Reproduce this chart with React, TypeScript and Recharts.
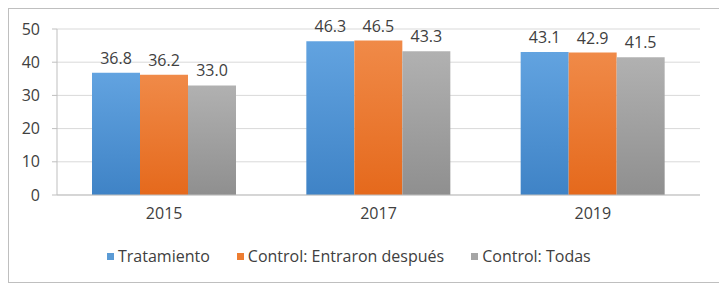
import React from 'react';
import { BarChart, Bar, XAxis, YAxis, CartesianGrid, Legend, LabelList } from 'recharts';

const years = ['2015', '2017', '2019'];
const tratamiento = [36.8, 46.3, 43.1];
const entraronDespues = [36.2, 46.5, 42.9];
const todas = [33.0, 43.3, 41.5];
const yTicks = [0, 10, 20, 30, 40, 50];

const series = [
  { key: 'tratamiento', name: 'Tratamiento', color: '#5b9bd5', top: '#62a3e0', bottom: '#3f83c6' },
  { key: 'entraron', name: 'Control: Entraron después', color: '#ed7d31', top: '#f08a48', bottom: '#e5691c' },
  { key: 'todas', name: 'Control: Todas', color: '#a5a5a5', top: '#b1b1b1', bottom: '#8f8f8f' },
];

const data = years.map((y, i) => ({
  year: y,
  tratamiento: tratamiento[i],
  entraron: entraronDespues[i],
  todas: todas[i],
}));

const FONT = '"Open Sans", "Noto Sans", sans-serif';

// legend drawn by hand so the squares and spacing match the original
function LegendRow() {
  return (
    <div style={{ display: 'flex', paddingLeft: 98, gap: 27, fontFamily: FONT, fontSize: 16, lineHeight: '20px', color: '#404040' }}>
      {series.map(s => (
        <div key={s.key} style={{ display: 'flex', alignItems: 'center' }}>
          <span style={{ display: 'inline-block', width: 7, height: 7, background: s.color, marginRight: 4 }} />
          <span>{s.name}</span>
        </div>
      ))}
    </div>
  );
}

export default function App() {
  return (
    <div style={{ width: 713, height: 273, border: '1px solid #bfbfbf', background: '#fff' }}>
      <BarChart
        width={713}
        height={273}
        data={data}
        margin={{ top: 20, right: 22, left: 0, bottom: 16 }}
        barGap={0}
        barSize={48}
      >
        <defs>
          {series.map(s => (
            <linearGradient key={s.key} id={`g-${s.key}`} x1="0" y1="0" x2="0" y2="1">
              <stop offset="0%" stopColor={s.top} />
              <stop offset="100%" stopColor={s.bottom} />
            </linearGradient>
          ))}
        </defs>
        <CartesianGrid vertical={false} stroke="#d9d9d9" />
        <XAxis
          dataKey="year"
          tickLine={false}
          axisLine={{ stroke: '#bfbfbf' }}
          tick={{ fill: '#404040', fontSize: 16, fontFamily: FONT }}
          tickMargin={7}
          height={51}
        />
        <YAxis
          domain={[0, 50]}
          ticks={yTicks}
          width={48}
          tickSize={5}
          tickMargin={12}
          tickLine={{ stroke: '#bfbfbf' }}
          axisLine={{ stroke: '#bfbfbf' }}
          tick={{ fill: '#404040', fontSize: 16, fontFamily: FONT }}
        />
        <Legend verticalAlign="bottom" height={20} content={() => <LegendRow />} />
        {series.map(s => (
          <Bar key={s.key} dataKey={s.key} name={s.name} fill={`url(#g-${s.key})`} isAnimationActive={false}>
            <LabelList
              dataKey={s.key}
              position="top"
              offset={9}
              formatter={(v: number) => v.toFixed(1)}
              style={{ fill: '#404040', fontSize: 16, fontFamily: FONT }}
            />
          </Bar>
        ))}
      </BarChart>
    </div>
  );
}
